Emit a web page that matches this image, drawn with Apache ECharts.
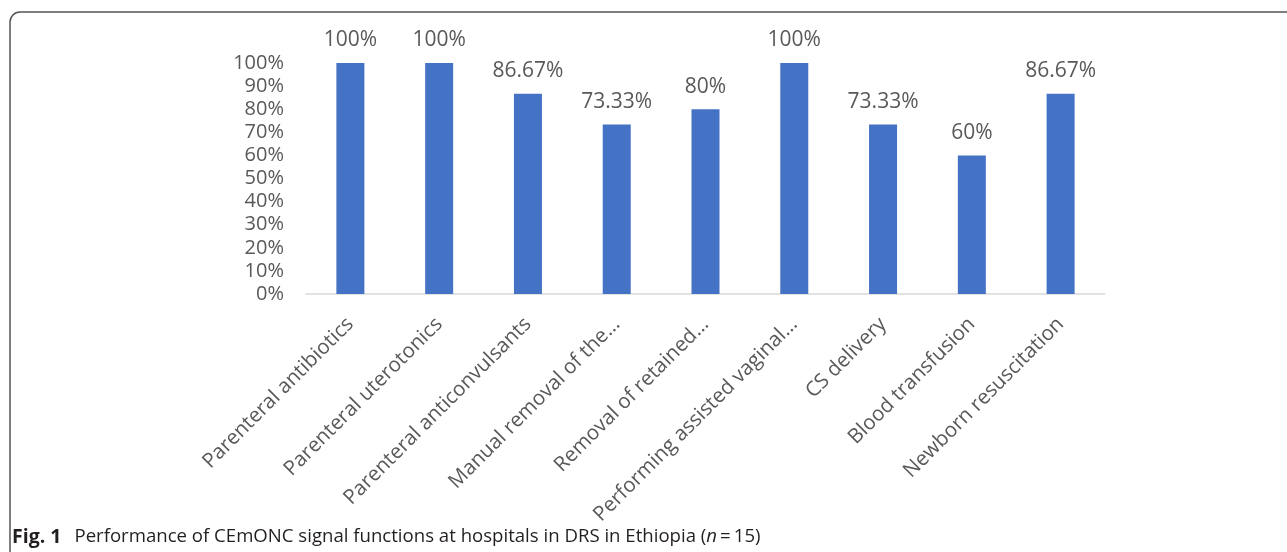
<!DOCTYPE html>
<html><head><meta charset="utf-8">
<script src="https://cdn.jsdelivr.net/npm/echarts@6/dist/echarts.min.js"></script>
<style>html,body{margin:0;padding:0;background:#fff}#c{width:1287px;height:552px}</style>
</head><body><div id="c"></div>
<script>
const categories = ["Parenteral antibiotics","Parenteral uterotonics","Parenteral anticonvulsants","Manual removal of the...","Removal of retained...","Performing assisted vaginal...","CS delivery","Blood transfusion","Newborn resuscitation"];
const values = [100, 100, 86.67, 73.33, 80, 100, 73.33, 60, 86.67];
const yTicks = [0,10,20,30,40,50,60,70,80,90,100];
const captionBold = "Fig. 1";
const captionText = "Performance of CEmONC signal functions at hospitals in DRS in Ethiopia (";
const captionN = "n";
const captionEnd = "\u2009=\u200915)";

const chart = echarts.init(document.getElementById('c'), null, {renderer:'canvas'});
const FONT = 'Open Sans';
chart.setOption({
  animation:false,
  backgroundColor:'#fff',
  grid:{left:306, right:182, top:63, bottom:258, containLabel:false},
  xAxis:{type:'category', data:categories,
    axisLine:{lineStyle:{color:'#d9d9d9', width:1.5}},
    axisTick:{show:false},
    axisLabel:{interval:0, rotate:45, color:'#595959', fontFamily:FONT, fontSize:20.5, margin:27}},
  yAxis:{type:'value', min:yTicks[0], max:yTicks[yTicks.length-1], interval:10,
    axisLine:{show:false}, axisTick:{show:false}, splitLine:{show:false},
    axisLabel:{color:'#595959', fontFamily:FONT, fontSize:20, margin:22, formatter:v=>v+'%'}},
  series:[{type:'bar', data:values, barWidth:28, itemStyle:{color:'#4472C4'},
    label:{show:true, position:'top', distance:12, color:'#595959', fontFamily:FONT, fontSize:21, formatter:p=>p.value+'%'}}],
  graphic:[
    {type:'rect', shape:{x:10, y:12, width:1320, height:600, r:10}, style:{fill:'none', stroke:'#555', lineWidth:1.5}},
    {type:'text', left:12, top:527, style:{
      text:'{b|'+captionBold+'}{t|'+captionText+'}{i|'+captionN+'}{t|'+captionEnd+'}',
      rich:{
        b:{fontFamily:FONT, fontWeight:'bold', fontSize:19.5, fill:'#231f20', padding:[0,13,0,0]},
        t:{fontFamily:FONT, fontSize:18.6, fill:'#231f20'},
        i:{fontFamily:FONT, fontStyle:'italic', fontSize:18.6, fill:'#231f20'}
      }}}
  ]
});
</script></body></html>
